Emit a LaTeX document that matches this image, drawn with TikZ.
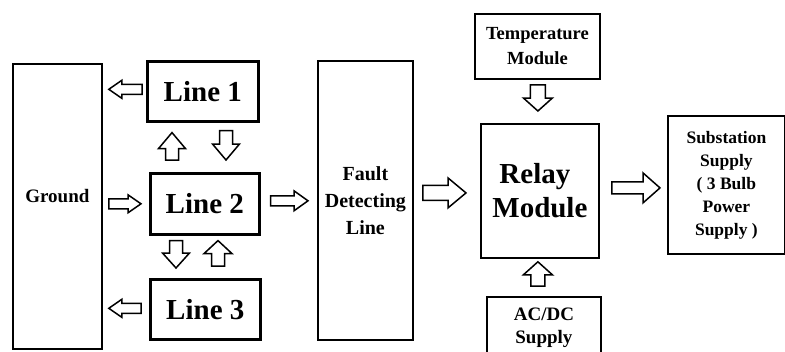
\documentclass[tikz,border=0pt]{standalone}
\usepackage{fontspec}
\setmainfont{Liberation Serif}
\usetikzlibrary{calc}
\tikzset{
  box/.style={draw, line width=1.8pt, anchor=north west, align=center, inner sep=0pt},
  linebox/.style={box, line width=2.6pt, font=\fontsize{29}{34}\selectfont\bfseries},
  smalltext/.style={font=\fontsize{19}{25}\selectfont\bfseries},
  barrow/.style={draw, line width=1.5pt, fill=white, line join=miter},
}
\newcommand\blockarrow[5]{%
  \path #1 coordinate (ba-s) #2 coordinate (ba-e);
  \path ($(ba-e)!#5!(ba-s)$) coordinate (ba-h);
  \draw[barrow] ($(ba-s)!#3!90:(ba-e)$) -- ($(ba-h)!#3!90:(ba-e)$) -- ($(ba-h)!#4!90:(ba-e)$)
    -- (ba-e) -- ($(ba-h)!#4!-90:(ba-e)$) -- ($(ba-h)!#3!-90:(ba-e)$) -- ($(ba-s)!#3!-90:(ba-e)$) -- cycle;
}
\begin{document}
\begin{tikzpicture}[x=1pt,y=-1pt]
\useasboundingbox (0,0) rectangle (785,351);
\clip (0,0) rectangle (785,351);

\node[box, smalltext, minimum width=89pt, minimum height=285pt] (g) at (12,63) {\smash{\raisebox{3.5pt}{Ground}}};
\node[linebox, minimum width=111pt, minimum height=60pt] (l1) at (146,60) {Line 1};
\node[linebox, minimum width=109pt, minimum height=61pt] (l2) at (149,172) {Line 2};
\node[linebox, minimum width=110pt, minimum height=60pt] (l3) at (149,278) {Line 3};
\node[box, font=\fontsize{20}{27}\selectfont\bfseries, minimum width=95pt, minimum height=279pt] (f) at (317,60) {Fault\\Detecting\\Line};
\node[box, font=\fontsize{29}{34}\selectfont\bfseries, minimum width=118pt, minimum height=134pt] (r) at (480,123) {\raisebox{-4pt}{\hspace{-10pt}Relay}\\\raisebox{-4pt}{Module}};
\node[box, font=\fontsize{18.5}{25}\selectfont\bfseries, minimum width=125pt, minimum height=65pt] (t) at (474,13) {Temperature\\Module};
\node[box, font=\fontsize{19}{23}\selectfont\bfseries, minimum width=114pt, minimum height=62pt] (a) at (486,296) {AC/DC\\Supply};
\node[box, font=\fontsize{17.5}{23}\selectfont\bfseries, minimum width=117pt, minimum height=138pt] (s) at (667,115) {Substation\\Supply\\( 3 Bulb\\Power\\Supply )};

\blockarrow{($(l1.west)+(-4,-2)$)}{($(g.east |- l1.west)+(6,-2)$)}{5pt}{9pt}{13pt}
\blockarrow{($(g.east |- l2.west)+(6,0)$)}{($(l2.west)+(-8,0)$)}{5pt}{9pt}{13pt}
\blockarrow{($(l3.west)+(-8,-1)$)}{($(g.east |- l3.west)+(6,-1)$)}{5pt}{9pt}{13pt}
\blockarrow{($(l2.north west)+(23,-12)$)}{($(l1.south west)+(26,10)$)}{6.5pt}{13.5pt}{16pt}
\blockarrow{($(l1.south west)+(80,8)$)}{($(l2.north west)+(77,-12)$)}{6.5pt}{13.5pt}{16pt}
\blockarrow{($(l2.south west)+(27,5)$)}{($(l3.north west)+(27,-10)$)}{6.5pt}{13.5pt}{15pt}
\blockarrow{($(l3.north west)+(69,-12)$)}{($(l2.south west)+(69,5)$)}{6.5pt}{14pt}{13pt}
\blockarrow{($(l2.east)+(10,-3)$)}{($(f.west |- l2.east)+(-9,-3)$)}{5pt}{10pt}{14pt}
\blockarrow{($(f.east)+(9,-7.5)$)}{($(r.west)+(-14,2)$)}{7.5pt}{15pt}{18pt}
\blockarrow{($(t.south)+(0.5,5)$)}{($(r.north)+(-2,-12)$)}{7.5pt}{14.5pt}{13pt}
\blockarrow{($(a.north)+(-6,-10)$)}{($(r.south)+(-2,3)$)}{7pt}{14.5pt}{13pt}
\blockarrow{($(r.east)+(12,-3)$)}{($(s.west |- r.east)+(-7,-3)$)}{6pt}{15pt}{17pt}
\end{tikzpicture}
\end{document}
